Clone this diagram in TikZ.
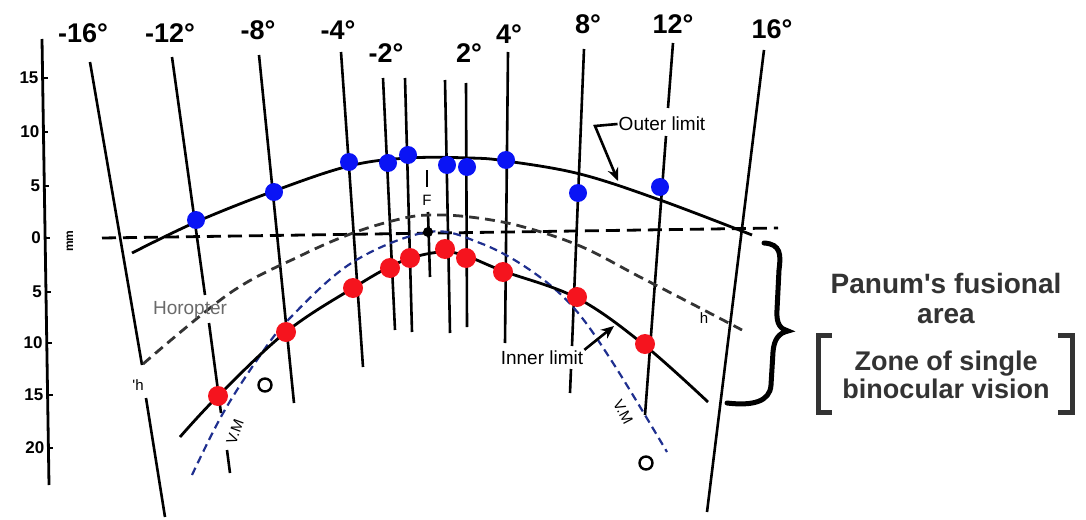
\documentclass[tikz,border=0pt]{standalone}
\usepackage{fontspec}
\setmainfont{Liberation Sans}
\usetikzlibrary{arrows.meta}
\definecolor{vmblue}{HTML}{1F2F8F}
\definecolor{dotblue}{HTML}{0A14F5}
\definecolor{dotred}{HTML}{F5141E}
\definecolor{txtgray}{HTML}{333333}
\definecolor{horgray}{HTML}{6A6A6A}
\begin{document}
\begin{tikzpicture}[x=1pt,y=-1pt,
  radial/.style={line width=2.6pt},
  solidcurve/.style={line width=2.8pt},
  zeroline/.style={line width=2.8pt, dash pattern=on 14pt off 7pt},
  horline/.style={line width=2.8pt, color=black!80, dash pattern=on 10pt off 6pt},
  vmline/.style={line width=2.2pt, color=vmblue, dash pattern=on 8pt off 5pt},
  bdot/.style={circle, fill=dotblue, inner sep=0pt, minimum size=18pt},
  rdot/.style={circle, fill=dotred, inner sep=0pt, minimum size=20pt},
  deg/.style={font=\bfseries\fontsize{27}{27}\selectfont, inner sep=0pt},
  ticklab/.style={font=\bfseries\fontsize{17}{17}\selectfont, anchor=east, inner sep=0pt},
  smalltxt/.style={font=\fontsize{19}{19}\selectfont, inner sep=1pt},
  tinytxt/.style={font=\fontsize{15}{15}\selectfont, inner sep=0pt},
  bigtxt/.style={font=\bfseries\fontsize{28}{30}\selectfont, text=txtgray, align=center, inner sep=0pt},
  ring/.style={circle, draw, line width=2.4pt, inner sep=0pt, minimum size=13pt},
  bracketline/.style={line width=5pt, color=txtgray},
  lab/.style={-{Stealth[length=13pt,width=11pt]}, line width=2.6pt},
]
\useasboundingbox (0,0) rectangle (1086,519);

% vertical mm axis
\coordinate (axT) at (42,39);
\coordinate (axB) at (49,485);
\draw[line width=2.8pt] (axT) -- (axB);
\foreach \yy/\t in {78/15,132/10,186/5,238/0,292/5,343/10,395/15,448/20}{
  \pgfmathsetmacro{\xx}{42+7*(\yy-39)/446}
  \draw[line width=2pt] (\xx,\yy) -- (\xx+5,\yy);
  \node[ticklab] at (\xx-4,\yy) {\t};
}
\node[tinytxt, rotate=90, font=\bfseries\fontsize{12}{12}\selectfont] (mm) at (70,241) {mm};

% radial lines
\draw[radial] (90,62) -- (142,365);
\draw[radial] (146,398) -- (165,517);
\draw[radial] (172,57) -- (205,295);
\draw[radial] (209,323) -- (221,413);
\draw[radial] (227,450) -- (230,473);
\draw[radial] (259,55) -- (294,403);
\draw[radial] (341,52) -- (363,367);
\draw[radial] (383,78) -- (395,330);
\draw[radial] (405,78) -- (412,332);
\draw[radial] (445,80) -- (450,333);
\draw[radial] (466,83) -- (467,327);
\draw[radial] (508,52) -- (505,343);
\draw[radial] (584,49) -- (572,346);
\draw[radial] (571,369) -- (570,393);
\draw[radial] (673,43) -- (668,108);
\draw[radial] (666,136) -- (645,415);
\draw[radial] (764,50) -- (707,512);

% fixation line
\draw[radial] (427,170) -- (427,187);
\node[tinytxt] (F) at (427,200) {F};
\draw[radial] (428,212) -- (430,277);

% degree labels
\node[deg] (d1) at (83,33) {-16°};
\node[deg] (d2) at (170,33) {-12°};
\node[deg] (d3) at (258,30) {-8°};
\node[deg] (d4) at (338,30) {-4°};
\node[deg] (d5) at (386,53) {-2°};
\node[deg] (d6) at (469,53) {2°};
\node[deg] (d7) at (509,34) {4°};
\node[deg] (d8) at (588,24) {8°};
\node[deg] (d9) at (673,24) {12°};
\node[deg] (d10) at (772,29) {16°};

% zero dashed line
\draw[zeroline] (102,238) -- (778,228);

% horopter
\draw[horline] plot[smooth, tension=0.6] coordinates {(143,364) (230,293) (300,256) (353,233) (400,219) (430,215) (470,217) (520,226) (580,246) (640,277) (700,308) (742,330)};

% Vieth-Muller circle
\draw[vmline] plot[smooth, tension=0.6] coordinates {(192,475) (222,415) (257,360) (290,318) (353,262) (428,232) (480,243) (530,270) (573,307) (613,363) (667,452)};

% outer limit
\draw[solidcurve] plot[smooth, tension=0.6] coordinates {(132,253) (196,222) (274,191) (349,166) (408,158) (470,158) (506,161) (580,174) (660,200) (752,235)};

% inner limit
\draw[solidcurve] plot[smooth, tension=0.6] coordinates {(180,437) (218,396) (286,332) (353,288) (400,262) (440,252) (466,256) (503,271) (577,298) (643,344) (708,402)};

% fixation point
\node[circle, fill=black, inner sep=0pt, minimum size=10pt] (fix) at (428,232) {};

% blue dots
\foreach \p [count=\i] in {(196,220),(274,192),(349,162),(388,163),(408,155),(447,165),(467,167),(506,160),(578,193),(660,187)}{
  \node[bdot] (b\i) at \p {};
}
% red dots
\foreach \p [count=\i] in {(218,396),(286,332),(353,288),(390,268),(410,258),(445,249),(466,258),(503,272),(577,297),(645,344)}{
  \node[rdot] (r\i) at \p {};
}

% small rings
\node[ring] (o1) at (265,385) {};
\node[ring] (o2) at (646,463) {};

% V.M labels
\node[tinytxt, rotate=70] (vm1) at (235,432) {V.M};
\node[tinytxt, rotate=-62] (vm2) at (623,412) {V.M};

% h labels
\node[tinytxt] (h1) at (138,385) {\textquotesingle h};
\node[tinytxt] (h2) at (704,318) {h};

% Horopter label
\node[smalltxt, text=horgray] (hor) at (190,310) {Horopter};

% Outer limit label and arrow
\node[smalltxt] (outer) at (662,124) {Outer limit};
\coordinate (oA) at (595,126);
\coordinate (oB) at (618,181);
\draw[lab] (outer.west) -- (oA) -- (oB);

% Inner limit label and arrow
\node[smalltxt] (inner) at (542,358) {Inner limit};
\coordinate (iB) at (614,326);
\draw[lab] (inner.north east) -- (iB);

% curly brace
\draw[line width=5pt, line cap=round] (764,243) .. controls (781,244) and (781,255) .. (779,270)
  -- (777,310) .. controls (776,325) and (781,329) .. (788,331)
  .. controls (779,333) and (774,339) .. (773,352)
  -- (771,385) .. controls (770,402) and (752,406) .. (727,403);

% Panum text
\node[bigtxt] (panum) at (946,298) {Panum\textquotesingle s fusional\\area};
\node[bigtxt, font=\bfseries\fontsize{27}{28}\selectfont] (zone) at (946,375) {Zone of single\\binocular vision};
\draw[bracketline] (832,335) -- (818,335) -- (818,412) -- (832,412);
\draw[bracketline] (1058,335) -- (1072,335) -- (1072,412) -- (1058,412);

\end{tikzpicture}
\end{document}
